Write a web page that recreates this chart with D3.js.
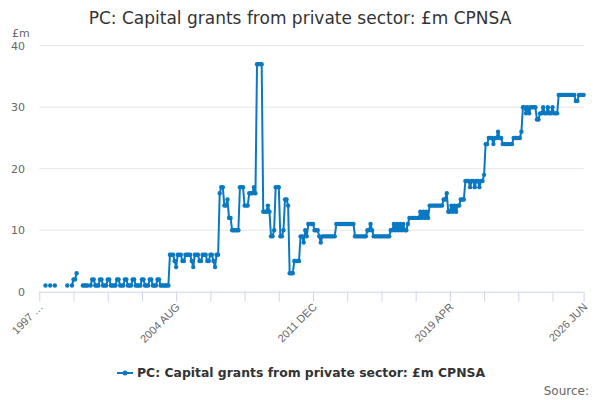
<!DOCTYPE html>
<meta charset="utf-8">
<style>
    body { margin: 0; background: #fff; }
    svg { font-family: "DejaVu Sans", Verdana, sans-serif; }
    .grid line { stroke: #e6e6e6; stroke-width: 1px; }
    .axis path, .axis line { stroke: #ccd6eb; }
    .axis text { fill: #666; font-size: 11px; }
    .line { fill: none; stroke: #0a79c2; stroke-width: 2px; }
    .dot { fill: #0a79c2; }
</style>
<body>
<script src="https://d3js.org/d3.v7.min.js"></script>
<script>
    // monthly categories: 1997 APR .. 2026 JUN
    var months = ["JAN", "FEB", "MAR", "APR", "MAY", "JUN", "JUL", "AUG", "SEP", "OCT", "NOV", "DEC"];
    var startYear = 1997, startMonth = 3, monthCount = 351;

    // £m, one row per 12 months starting APR (null = no value)
    var values = [
        null, null, null, null, 1, null, null, 1, null, null, 1, null,
        null, null, null, null, null, null, 1, null, null, 1, 2, 2,
        3, null, null, null, 1, 1, 1, 1, null, 1, 2, 2,
        1, 1, 1, 2, 2, 1, 1, 1, 2, 2, 1, 1,
        1, 1, 2, 2, 1, 1, 1, 2, 2, 1, 1, 1,
        2, 2, 1, 1, 1, 1, 2, 2, 1, 1, 1, 2,
        2, 1, 1, 1, 2, 2, 1, 1, 1, 1, 1, 1,
        6, 6, 6, 5, 4, 6, 6, 6, 5, 5, 6, 6,
        6, 6, 5, 4, 6, 6, 6, 5, 5, 6, 6, 6,
        5, 5, 6, 6, 5, 4, 6, 6, 16, 17, 17, 14,
        14, 15, 12, 12, 10, 10, 10, 10, 10, 17, 17, 17,
        14, 14, 14, 16, 16, 16, 17, 16, 37, 37, 37, 37,
        13, 13, 13, 14, 13, 9, 9, 10, 17, 17, 17, 9,
        9, 10, 15, 15, 14, 3, 3, 3, 5, 5, 5, 5,
        9, 9, 8, 10, 9, 11, 11, 11, 11, 10, 10, 10,
        9, 8, 9, 9, 9, 9, 9, 9, 9, 9, 9, 11,
        11, 11, 11, 11, 11, 11, 11, 11, 11, 11, 11, 9,
        9, 9, 9, 9, 9, 9, 9, 10, 10, 11, 10, 9,
        9, 9, 9, 9, 9, 9, 9, 9, 9, 9, 10, 10,
        11, 10, 11, 10, 11, 10, 11, 10, 10, 11, 12, 12,
        12, 12, 12, 12, 12, 13, 12, 13, 12, 13, 12, 14,
        14, 14, 14, 14, 14, 14, 14, 14, 15, 15, 16, 13,
        13, 14, 13, 14, 13, 14, 14, 15, 15, 15, 18, 18,
        18, 17, 18, 18, 17, 18, 18, 17, 18, 18, 19, 24,
        24, 25, 25, 25, 24, 25, 25, 26, 25, 25, 24, 24,
        24, 24, 24, 24, 24, 25, 25, 25, 25, 25, 26, 30,
        30, 29, 30, 29, 30, 30, 30, 30, 28, 28, 29, 29,
        30, 29, 29, 30, 29, 29, 30, 29, 29, 29, 32, 32,
        32, 32, 32, 32, 32, 32, 32, 32, 32, 31, 31, 32,
        32, 32, 32
    ];

    var yTicks = [0, 10, 20, 30, 40];
    var tickEvery = 22, labelEvery = 88;
    var firstLabel = "1997 \u2026";
    var seriesName = "PC: Capital grants from private sector: £m CPNSA";

    var categories = d3.range(monthCount).map(function(i) {
        var m = startMonth + i;
        return (startYear + Math.floor(m / 12)) + " " + months[m % 12];
    });

    var data = categories.map(function(c, i) { return {cat: c, v: values[i]}; });

    var width = 600, height = 400;
    var margin = {top: 45.7, right: 16.4, bottom: 108.3, left: 39.3};

    var svg = d3.select("body").append("svg")
        .attr("width", width)
        .attr("height", height);

    var x = d3.scalePoint()
        .domain(categories)
        .range([margin.left, width - margin.right]);

    var y = d3.scaleLinear()
        .domain([0, 40])
        .range([height - margin.bottom, margin.top]);

    // gridlines
    svg.append("g")
        .attr("class", "grid")
        .selectAll("line")
        .data(yTicks.filter(function(t) { return t > 0; }))
        .join("line")
        .attr("x1", margin.left)
        .attr("x2", width - margin.right)
        .attr("y1", function(d) { return y(d); })
        .attr("y2", function(d) { return y(d); });

    // y labels
    svg.append("g")
        .attr("class", "axis")
        .selectAll("text")
        .data(yTicks)
        .join("text")
        .attr("x", 25)
        .attr("y", function(d) { return y(d); })
        .attr("dy", "0.35em")
        .attr("text-anchor", "end")
        .text(function(d) { return d; });

    svg.append("text")
        .attr("x", 12)
        .attr("y", 37)
        .style("font-size", "11px")
        .style("fill", "#666")
        .text("£m");

    // x axis
    var tickCats = categories.filter(function(c, i) {
        return i % tickEvery === 0 && i + tickEvery / 2 < monthCount;
    });
    tickCats.push(categories[monthCount - 1]);
    var labelCats = categories.filter(function(c, i) { return i % labelEvery === 0; });
    labelCats.push(categories[monthCount - 1]);

    var xAxis = svg.append("g")
        .attr("class", "axis")
        .attr("transform", "translate(0," + y(0) + ")")
        .call(d3.axisBottom(x)
            .tickValues(tickCats)
            .tickSize(10)
            .tickSizeOuter(0)
            .tickFormat(function(d) {
                if (labelCats.indexOf(d) < 0) return "";
                return d === categories[0] ? firstLabel : d;
            }));
    xAxis.select(".domain").attr("d", "M" + margin.left + ",0.5H" + (width - margin.right));
    xAxis.selectAll("text")
        .attr("text-anchor", "end")
        .attr("x", 0)
        .attr("y", 0)
        .attr("dy", 0)
        .attr("transform", "translate(4,16) rotate(-45)");

    // series
    var valueline = d3.line()
        .defined(function(d) { return d.v != null; })
        .x(function(d) { return x(d.cat); })
        .y(function(d) { return y(d.v); });

    svg.append("path")
        .datum(data)
        .attr("class", "line")
        .attr("d", valueline);

    svg.append("g")
        .selectAll("circle")
        .data(data.filter(function(d) { return d.v != null; }))
        .join("circle")
        .attr("class", "dot")
        .attr("cx", function(d) { return x(d.cat); })
        .attr("cy", function(d) { return y(d.v); })
        .attr("r", 2.2);

    // title
    svg.append("text")
        .attr("x", width / 2)
        .attr("y", 24)
        .attr("text-anchor", "middle")
        .style("font-size", "17px")
        .style("fill", "#333")
        .text(seriesName);

    // legend
    var legend = svg.append("g").attr("transform", "translate(117,373)");
    legend.append("line")
        .attr("x1", 0).attr("x2", 16)
        .attr("stroke", "#0a79c2").attr("stroke-width", 2);
    legend.append("circle")
        .attr("class", "dot")
        .attr("cx", 8).attr("r", 2.5);
    legend.append("text")
        .attr("x", 20)
        .attr("dy", "0.35em")
        .style("font-size", "12.4px")
        .style("font-weight", "bold")
        .style("fill", "#333")
        .text(seriesName);

    svg.append("text")
        .attr("x", 589)
        .attr("y", 395)
        .attr("text-anchor", "end")
        .style("font-size", "12px")
        .style("fill", "#666")
        .text("Source:");
</script>
</body>
